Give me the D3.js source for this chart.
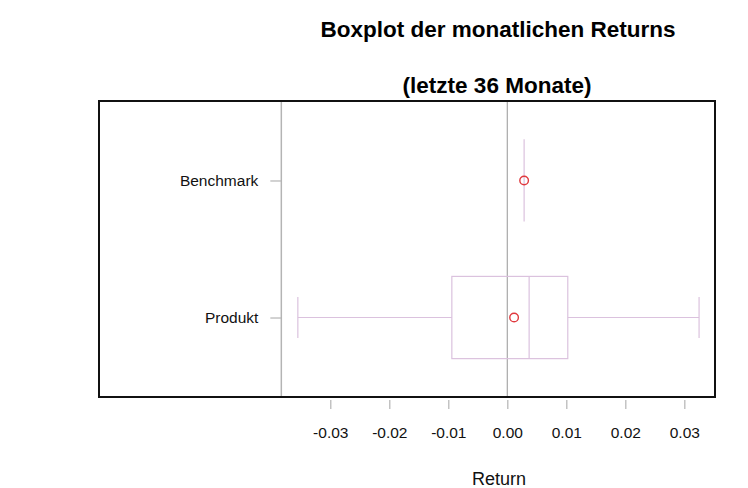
<!DOCTYPE html>
<html lang="en">
<head>
  <meta charset="utf-8">
  <script src="https://d3js.org/d3.v7.min.js"></script>
  <style>
    body { margin: 0; background: #fff; }
    text { font-family: "Liberation Sans", Arial, sans-serif; }
  </style>
</head>
<body>
  <div id='chart'></div>
  <script>
  const width = 748
  const height = 488

  // data
  const categories = ["Produkt", "Benchmark"]
  const lowWhisker = [-0.0355, 0.00285]
  const q1 = [-0.0094, 0.00285]
  const median = [0.0037, 0.00285]
  const q3 = [0.01025, 0.00285]
  const highWhisker = [0.0325, 0.00285]
  const means = [0.00115, 0.00285]
  const xTicks = [-0.03, -0.02, -0.01, 0.00, 0.01, 0.02, 0.03]
  const axisLineAt = -0.0383

  const frame = {left: 99, right: 715, top: 101, bottom: 397}

  const x = d3.scaleLinear()
      .domain([-0.0692, 0.0352])
      .range([frame.left, frame.right])

  // boxes sit at positions 1 and 2, R-like 4% padding
  const y = d3.scaleLinear()
      .domain([0.42, 2.58])
      .range([frame.bottom, frame.top])

  const boxHalf = 0.3
  const capHalf = 0.15
  const boxColor = "#dbc2de"

  const svg = d3.select('#chart').append("svg")
      .attr("width", width)
      .attr("height", height)

  const boxes = categories.map((c, i) => ({
    name: c, pos: i + 1, lo: lowWhisker[i], q1: q1[i], med: median[i],
    q3: q3[i], hi: highWhisker[i], mean: means[i]
  }))

  // reference lines: y-axis line and zero line
  svg.append("line")
      .attr("x1", x(axisLineAt)).attr("x2", x(axisLineAt))
      .attr("y1", frame.top).attr("y2", frame.bottom)
      .attr("stroke", "#b4b4b4").attr("stroke-width", 1.5)
  svg.append("line")
      .attr("x1", x(0)).attr("x2", x(0))
      .attr("y1", frame.top).attr("y2", frame.bottom)
      .attr("stroke", "#a8a8a8").attr("stroke-width", 1.2)

  const g = svg.selectAll("g.box")
      .data(boxes)
      .enter().append("g").attr("class", "box")
      .attr("stroke", boxColor).attr("fill", "none").attr("stroke-width", 1.2)

  // whiskers
  g.append("line")
      .attr("x1", d => x(d.lo)).attr("x2", d => x(d.q1))
      .attr("y1", d => y(d.pos)).attr("y2", d => y(d.pos))
  g.append("line")
      .attr("x1", d => x(d.q3)).attr("x2", d => x(d.hi))
      .attr("y1", d => y(d.pos)).attr("y2", d => y(d.pos))
  // caps
  g.filter(d => d.hi > d.lo).append("line")
      .attr("x1", d => x(d.lo)).attr("x2", d => x(d.lo))
      .attr("y1", d => y(d.pos + capHalf)).attr("y2", d => y(d.pos - capHalf))
  g.filter(d => d.hi > d.lo).append("line")
      .attr("x1", d => x(d.hi)).attr("x2", d => x(d.hi))
      .attr("y1", d => y(d.pos + capHalf)).attr("y2", d => y(d.pos - capHalf))
  // box
  g.append("rect")
      .attr("x", d => x(d.q1))
      .attr("width", d => x(d.q3) - x(d.q1))
      .attr("y", d => y(d.pos + boxHalf))
      .attr("height", d => y(d.pos - boxHalf) - y(d.pos + boxHalf))
  // median
  g.append("line")
      .attr("x1", d => x(d.med)).attr("x2", d => x(d.med))
      .attr("y1", d => y(d.pos + boxHalf)).attr("y2", d => y(d.pos - boxHalf))

  // means
  svg.selectAll("circle.mean")
      .data(boxes)
      .enter().append("circle").attr("class", "mean")
      .attr("cx", d => x(d.mean)).attr("cy", d => y(d.pos))
      .attr("r", 4.3)
      .attr("fill", "none").attr("stroke", "#e0393e").attr("stroke-width", 1.4)

  // frame
  svg.append("rect")
      .attr("x", frame.left).attr("y", frame.top)
      .attr("width", frame.right - frame.left).attr("height", frame.bottom - frame.top)
      .attr("fill", "none").attr("stroke", "#111").attr("stroke-width", 2)

  // x axis
  const xAxis = svg.append("g")
      .attr("transform", `translate(0,${frame.bottom + 3})`)
      .call(d3.axisBottom(x).tickValues(xTicks).tickSize(9).tickPadding(18)
        .tickFormat(d3.format(".2f")))
  xAxis.select(".domain").remove()
  xAxis.selectAll(".tick line").attr("stroke", "#b4b4b4").attr("stroke-width", 1.2)
  xAxis.selectAll(".tick text").attr("font-size", 15.5).attr("fill", "#111")
      .text(d => d3.format(".2f")(d).replace("−", "-"))

  // y axis labels
  const yAxis = svg.append("g")
      .attr("transform", `translate(${x(axisLineAt)},0)`)
      .call(d3.axisLeft(y).tickValues(boxes.map(d => d.pos)).tickSize(11).tickPadding(12)
        .tickFormat((d, i) => categories[i]))
  yAxis.select(".domain").remove()
  yAxis.selectAll(".tick line").attr("stroke", "#b4b4b4").attr("stroke-width", 1.2)
  yAxis.selectAll(".tick text").attr("font-size", 15.5).attr("fill", "#111")

  // titles
  svg.append("text")
      .attr("x", 498).attr("y", 37)
      .attr("text-anchor", "middle").attr("font-size", 22.5).attr("font-weight", "bold")
      .text("Boxplot der monatlichen Returns")
  svg.append("text")
      .attr("x", 497).attr("y", 93)
      .attr("text-anchor", "middle").attr("font-size", 22.5).attr("font-weight", "bold")
      .text("(letzte 36 Monate)")
  svg.append("text")
      .attr("x", 499).attr("y", 485)
      .attr("text-anchor", "middle").attr("font-size", 18).attr("fill", "#111")
      .text("Return")
  </script>
</body>
</html>
